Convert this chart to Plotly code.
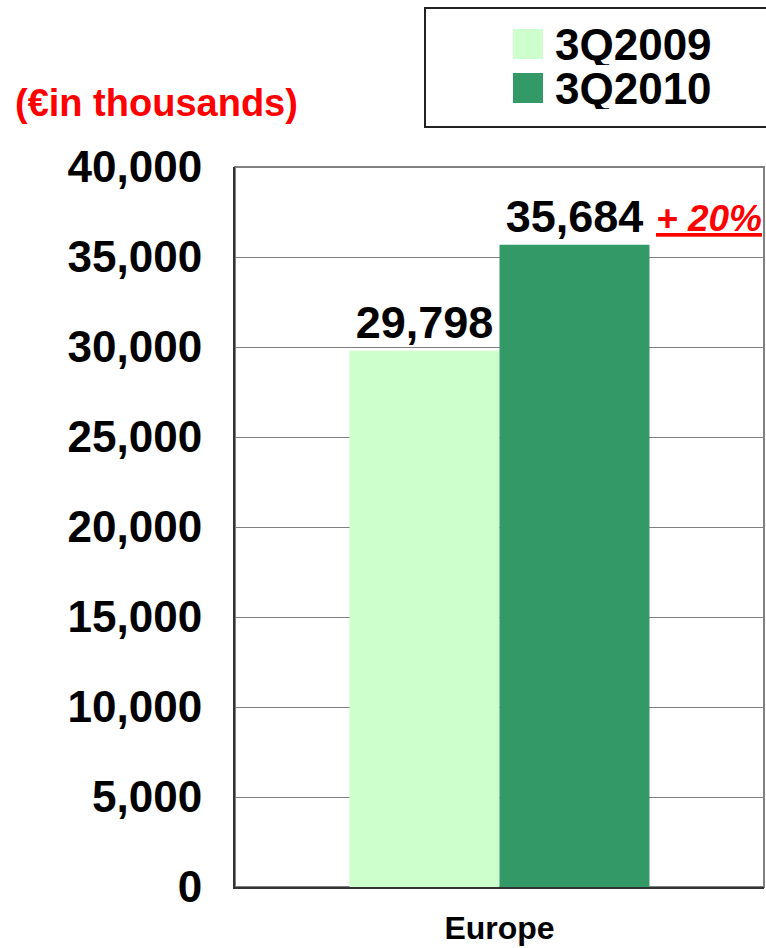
import plotly.graph_objects as go

categories = ["Europe"]
series_names = ["3Q2009", "3Q2010"]
values_2009 = [29798]
values_2010 = [35684]
series_colors = ["#CCFFCC", "#339966"]
growth_label = "+ 20%"
unit_label = "(€in thousands)"
y_ticks = [0, 5000, 10000, 15000, 20000, 25000, 30000, 35000, 40000]

FONT = "Liberation Sans, Arial, sans-serif"

W, H = 766, 948
pl, pr, pt, pb = 235, 2, 167, 61
pw, ph = W - pl - pr, H - pt - pb

def px(x):  # window x pixel -> paper coordinate
    return (x - pl) / pw

def py(y):  # window y pixel -> paper coordinate
    return (H - pb - y) / ph

fig = go.Figure()
for name, vals, col in zip(series_names, [values_2009, values_2010], series_colors):
    fig.add_trace(go.Bar(
        x=categories, y=vals, name=name, marker=dict(color=col, line=dict(width=0)),
        text=[f"{v:,}" for v in vals], textposition="outside", cliponaxis=False,
        textfont=dict(family=FONT, size=45, color="black", weight="bold"),
        showlegend=False,
    ))

fig.update_layout(
    width=W, height=H,
    margin=dict(l=pl, r=pr, t=pt, b=pb, autoexpand=False),
    paper_bgcolor="white", plot_bgcolor="white",
    barmode="group", bargap=0.433, bargroupgap=0,
    font=dict(family=FONT, color="black"),
)
fig.update_yaxes(
    range=[0, 40000], tickvals=y_ticks, tickformat=",",
    tickfont=dict(family=FONT, size=44, color="black", weight="bold"),
    showgrid=True, gridcolor="#808080", gridwidth=1,
    showline=True, linecolor="#333333", linewidth=2,
    ticks="", ticklabelstandoff=22, zeroline=False, automargin=False,
)
fig.update_xaxes(
    showline=True, linecolor="#333333", linewidth=2,
    tickfont=dict(family=FONT, size=32, color="black", weight="bold"),
    ticklabelstandoff=12, automargin=False,
)
# plot frame
fig.add_shape(type="rect", xref="paper", yref="paper", x0=0, x1=1, y0=0, y1=1,
              line=dict(color="#808080", width=2), layer="below")

# growth annotation
fig.add_annotation(x=px(654), y=py(219), xref="paper", yref="paper",
                   text=f"<i><u>{growth_label}</u></i>", showarrow=False,
                   xanchor="left", yanchor="middle",
                   font=dict(family=FONT, size=37, color="red", weight="bold"))
# unit label
fig.add_annotation(x=px(13), y=py(103), xref="paper", yref="paper", text=unit_label,
                   showarrow=False, xanchor="left", yanchor="middle",
                   font=dict(family=FONT, size=38, color="red", weight="bold"))

# manual legend (box, squares, labels)
fig.add_shape(type="rect", xref="paper", yref="paper", x0=px(425), x1=px(770), y0=py(127), y1=py(8),
              line=dict(color="#222222", width=2), fillcolor="white")
for i, (name, col) in enumerate(zip(series_names, series_colors)):
    ytop = 29 + i * 44
    fig.add_shape(type="rect", xref="paper", yref="paper", x0=px(513), x1=px(543),
                  y0=py(ytop + 30), y1=py(ytop), line=dict(width=0), fillcolor=col)
    fig.add_annotation(x=px(553), y=py(ytop + 15), xref="paper", yref="paper",
                       text=name, showarrow=False, xanchor="left", yanchor="middle",
                       height=42, font=dict(family=FONT, size=44, color="black", weight="bold"))

fig.write_html("out.html", config={"displayModeBar": False},
               post_script="document.body.style.margin='0';")
